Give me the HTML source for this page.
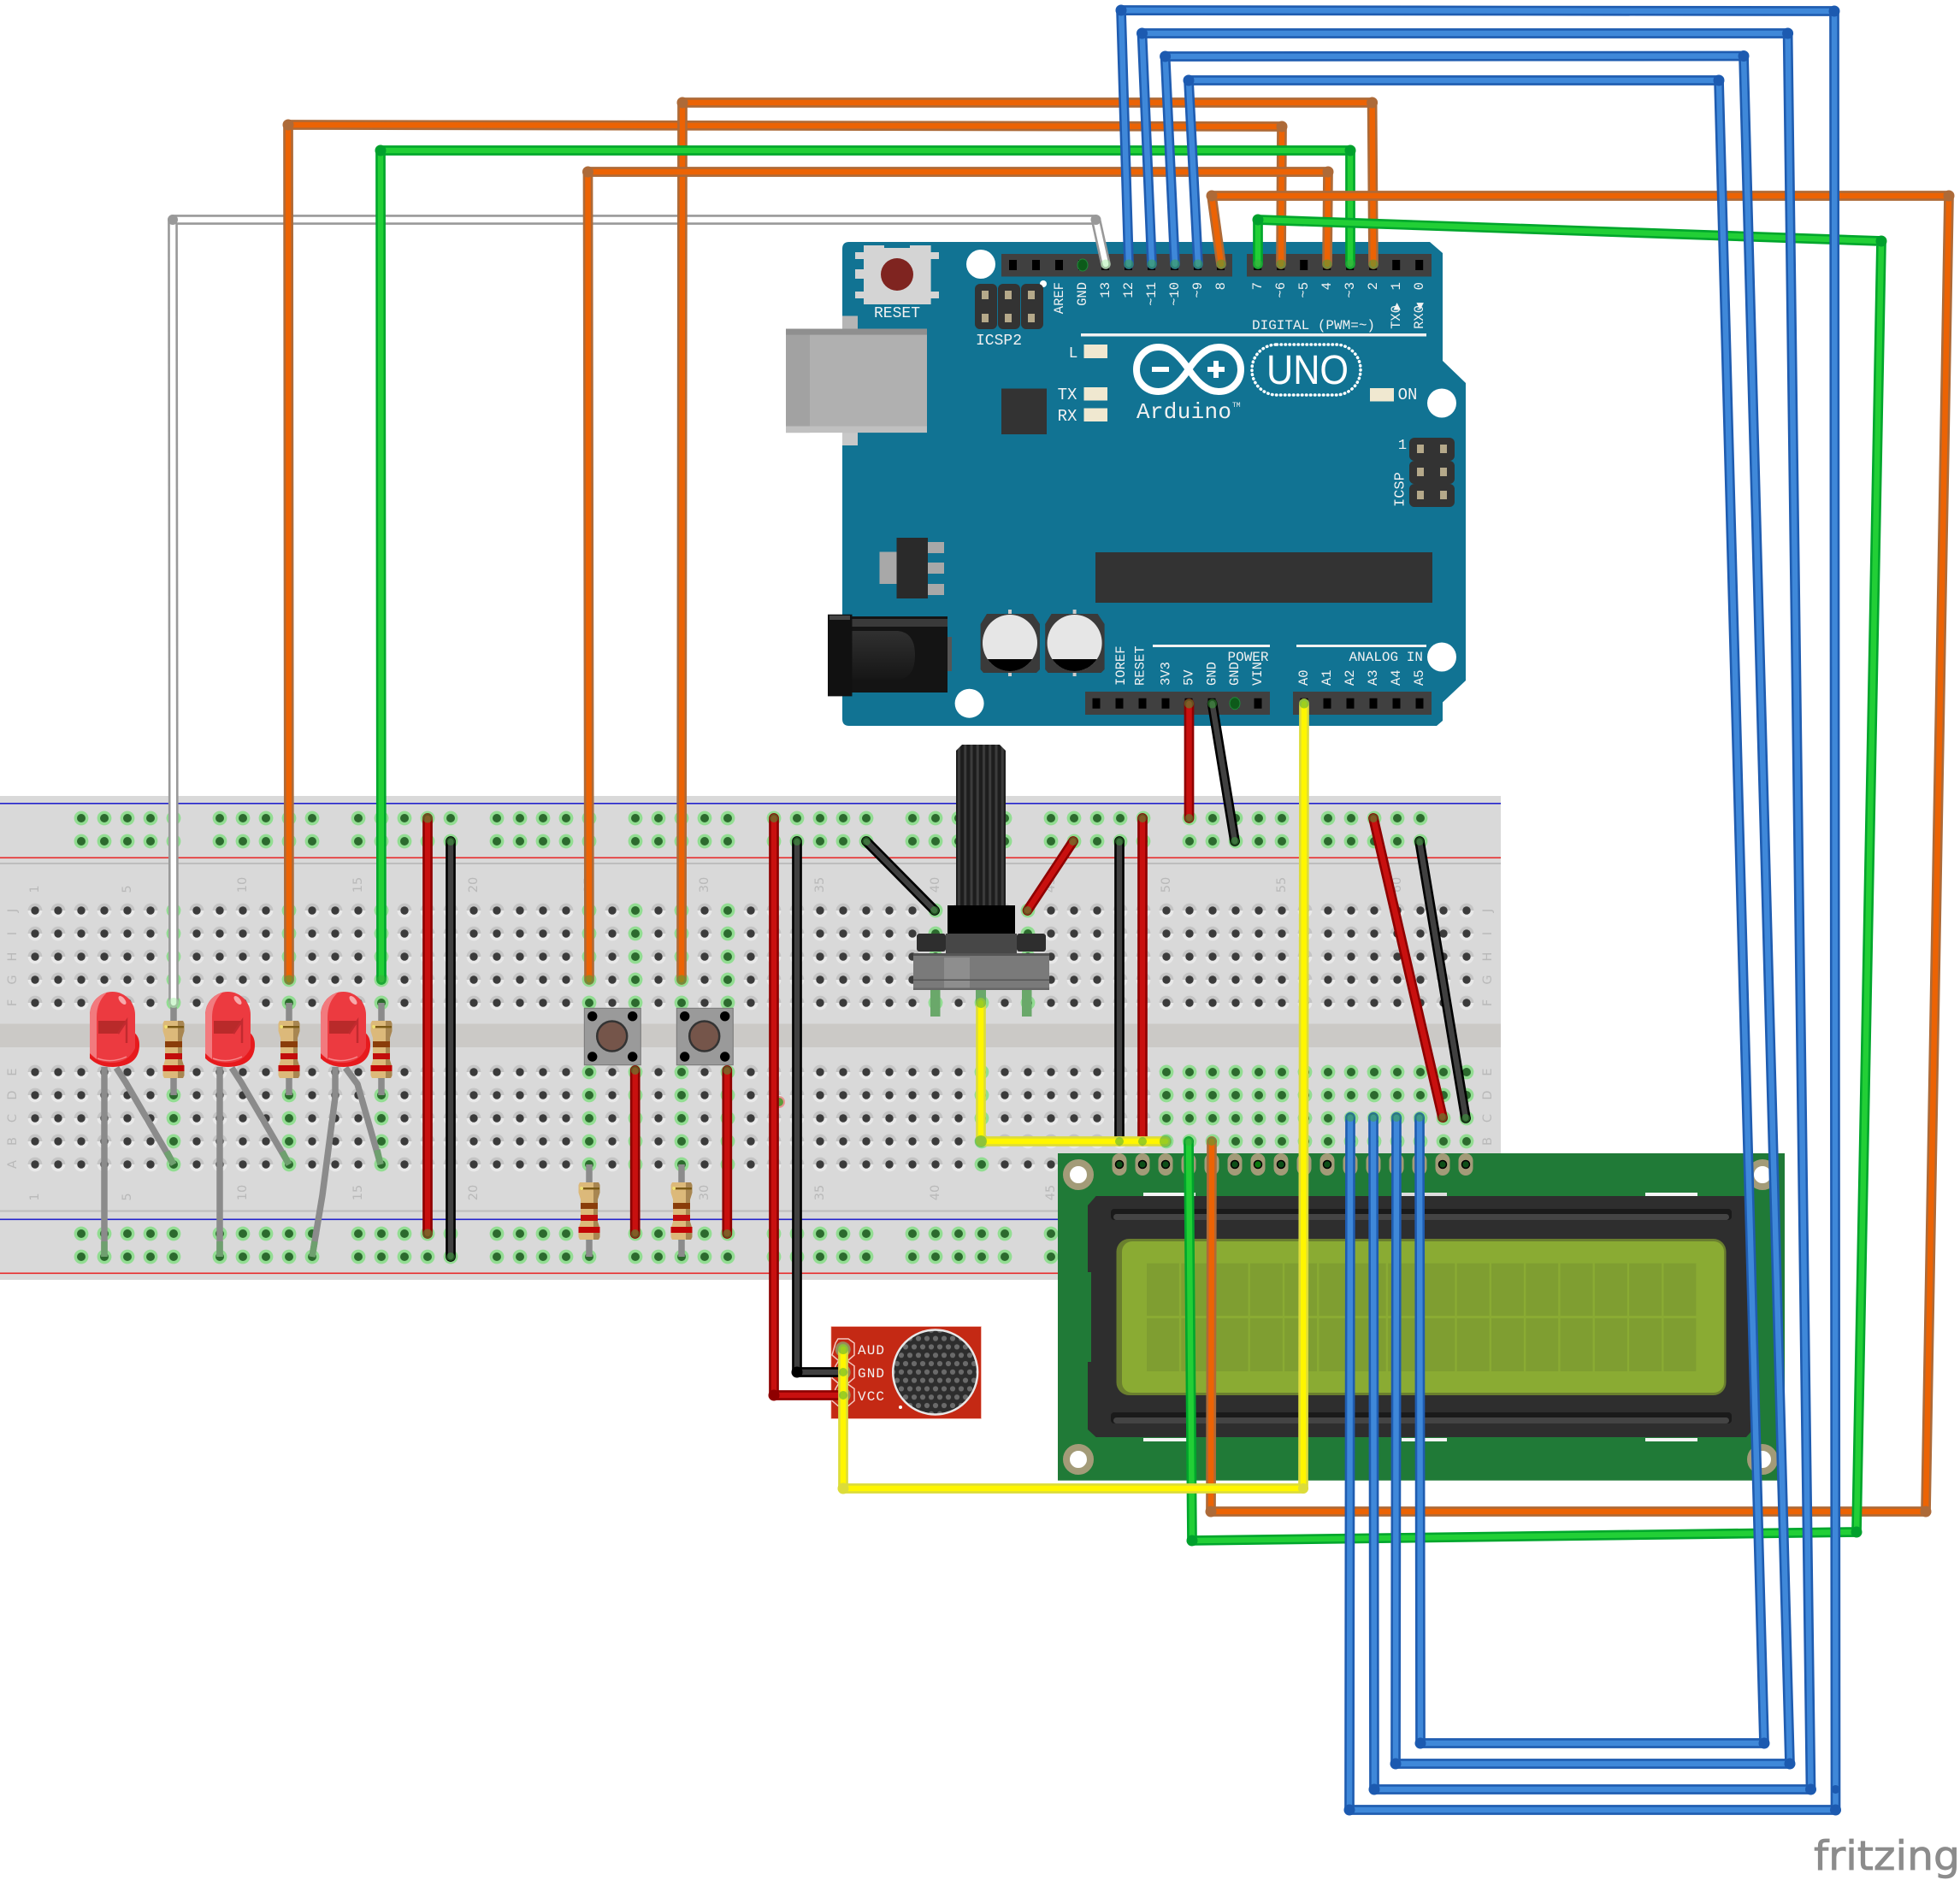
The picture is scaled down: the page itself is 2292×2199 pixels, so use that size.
<!DOCTYPE html>
<html><head><meta charset="utf-8"><title>Fritzing breadboard diagram</title>
<style>
html,body{margin:0;padding:0;background:#fff}
svg{display:block}
.wo,.wi{fill:none;stroke-linecap:round;stroke-linejoin:round}
.wo{stroke-width:11.7}.wi{stroke-width:6.5}
.blue .wo{stroke:#1f5cb0}.blue .wi{stroke:#3f88d9}.blue circle{fill:#1c5ab0}
.org .wo{stroke:#ad6a38}.org .wi{stroke:#ec6304}.org circle{fill:#ad6a38}
.grn .wo{stroke:#00a62c}.grn .wi{stroke:#22cf36}.grn circle{fill:#00a02c}
.yel .wo{stroke:#dcdc3a}.yel .wi{stroke:#fff600}.yel circle{fill:#dcdc3a}
.red .wo{stroke:#8e0000}.red .wi{stroke:#c8100f}.red circle{fill:#8e0000}
.blk .wo{stroke:#000}.blk .wi{stroke:#404040}.blk circle{fill:#000}
.wht .wo{stroke:#999}.wht .wi{stroke:#fff}.wht circle{fill:#999}
.bb{font-family:"DejaVu Sans",sans-serif;font-size:14.5px;fill:#b9b9b9;text-anchor:middle;dominant-baseline:central}
.m{font-family:"Liberation Mono",monospace;fill:#f2f2f2;font-size:16px}
.ve{text-anchor:end;dominant-baseline:central;font-size:15.5px}
.vs{text-anchor:start;dominant-baseline:central;font-size:15.5px}
.leg{fill:none;stroke:#8b8b8b;stroke-width:7.5;stroke-linejoin:round}
.legg{fill:none;stroke:#6fa06f;stroke-width:7.5}
.e{fill:#3ea83e;opacity:.5}
</style></head><body>
<svg xmlns="http://www.w3.org/2000/svg" width="2292" height="2199" viewBox="0 0 2292 2199">
<defs>
<pattern id="hg" patternUnits="userSpaceOnUse" x="27.5" y="1051.5" width="27" height="27">
<path d="M5.1,13.5a8.4,8.4 0 0 1 16.8,0z" fill="#c4c4c4"/><path d="M5.1,13.5a8.4,8.4 0 0 0 16.8,0z" fill="#e9e9e9"/><circle cx="13.5" cy="13.5" r="4.7" fill="#3b3b3b"/></pattern>
<pattern id="hv" patternUnits="userSpaceOnUse" x="27.5" y="1051.5" width="27" height="27">
<circle cx="13.5" cy="13.5" r="8.4" fill="#92dd92"/><circle cx="13.5" cy="13.5" r="5" fill="#2c6a2e"/></pattern>
<pattern id="micd" patternUnits="userSpaceOnUse" x="1089" y="1595" width="10" height="19.6">
<rect width="10" height="19.6" fill="#2d2d2d"/><circle cx="0" cy="0" r="3.1" fill="#6a6a6a"/><circle cx="10" cy="0" r="3.1" fill="#6a6a6a"/><circle cx="0" cy="19.6" r="3.1" fill="#6a6a6a"/><circle cx="10" cy="19.6" r="3.1" fill="#6a6a6a"/><circle cx="5" cy="9.8" r="3.1" fill="#6a6a6a"/></pattern>
<pattern id="sft" patternUnits="userSpaceOnUse" x="1118" y="0" width="7.25" height="10">
<rect width="7.25" height="10" fill="#1d1d1d"/><rect x="2" width="3" height="10" fill="#3c3c3c"/></pattern>
<linearGradient id="jk" x1="0" y1="0" x2="0" y2="1"><stop offset="0" stop-color="#303030"/><stop offset="1" stop-color="#161616"/></linearGradient>
<g id="res">
<path d="M-11,0H11L12.5,3V12L10,20V46L12.5,54V64L11,67H-11L-12.5,64V54L-10,46V20L-12.5,12V3Z" fill="#dcb97a"/>
<path d="M5,0H11L12.5,3V12L10,20V46L12.5,54V64L11,67H5Z" fill="#7d5c30" opacity=".55"/>
<rect x="-11" y="6" width="23" height="2.4" fill="#7b5a15"/><circle cx="-9" cy="7" r="2" fill="#f0e070"/>
<rect x="-10" y="24" width="20" height="7" fill="#8a3d0a"/><rect x="-10" y="38" width="20" height="7" fill="#c20c0c"/><rect x="-12.5" y="52" width="25" height="7" fill="#c20505"/>
</g>
<g id="led">
<path d="M105,1226V1238Q115,1248 132,1248Q163,1247 163,1222Q163,1212 156,1207V1226Z" fill="#e71a1d"/>
<path d="M105,1187A26.5,27 0 0 1 158,1187V1226Q150,1243 131,1243Q113,1243 105,1232Z" fill="#ec3a40"/>
<path d="M115,1194H148L138,1209H115Z" fill="#b92a2a"/><path d="M138,1209L148,1194V1220" fill="none" stroke="#c12a2f" stroke-width="2.5"/>
<path d="M105,1187A26.5,27 0 0 1 125,1161Q113,1172 113,1190V1239L105,1232Z" fill="#f27a7e"/>
<ellipse cx="143" cy="1170" rx="3" ry="6" transform="rotate(-40 143 1170)" fill="#f7a9ab"/>
<path d="M114,1238Q131,1244 148,1236" fill="none" stroke="#f58a8c" stroke-width="1.5"/>
</g>
<g id="cap">
<path d="M1154,718H1208L1216,730V783L1212,787H1150L1146.6,783V730Z" fill="#3a3a3a"/>
<rect x="1179" y="713" width="4" height="5" fill="#ccc"/><rect x="1179" y="787" width="4" height="4" fill="#ccc"/>
<ellipse cx="1181" cy="752" rx="32" ry="33" fill="#e6e6e6"/><path d="M1154.8,771A32,33 0 0 0 1207.2,771Z" fill="#000"/>
</g>
<path id="pad" d="M-8.5,8.5a8.5,8.5 0 0 1 17,0v9a8.5,8.5 0 0 1 -17,0z" fill="#a39b78"/>
<path id="w0" d="M203,1173L202,257L1281.5,257L1293,309"/>
<path id="wA" d="M1606,309L1604.6,120L798,120L797,1146"/>
<path id="wB" d="M1498,309L1499,148L337,146L338,1146"/>
<path id="wD" d="M1552,309L1553,201L687.5,201L689,1146"/>
<path id="wE" d="M1428,309L1417,229L2279,229L2252,1768L1416,1768L1417,1335"/>
<path id="wC" d="M1579,309L1579,176L445,176L446,1146"/>
<path id="wF" d="M1471,309L1471,257L2200,282L2171,1792L1394,1802L1390,1335"/>
<path id="y1" d="M1147,1173V1335H1363"/>
<path id="y2" d="M1525,823L1524,1741L986,1741V1578"/>
<path id="r1" d="M1390.5,823V957"/><path id="r2" d="M500,957V1443"/><path id="r3" d="M1336,957V1335"/>
<path id="r4" d="M1606,957L1687,1307"/><path id="r5" d="M1255,984L1201.5,1065"/>
<path id="r6" d="M742.7,1252V1443"/><path id="r7" d="M850.3,1252V1443"/><path id="r8" d="M905,957V1632H986"/>
<path id="k1" d="M1417.6,823L1444,984"/><path id="k2" d="M527,984V1470"/><path id="k3" d="M1309,984V1335"/>
<path id="k4" d="M1660,984L1714,1308"/><path id="k5" d="M1013,984L1093,1065"/><path id="k6" d="M932,984V1605H986"/>
<path id="b1" d="M1320,309L1311,12L2145,13L2146.5,2117L1578,2117L1579,1307"/>
<path id="b2" d="M1347,309L1335.5,39H2090.6L2117.5,2093H1607L1606,1307"/>
<path id="b3" d="M1374,309L1362.6,66L2039,65.5L2093,2063H1632L1633,1307"/>
<path id="b4" d="M1401,309L1390,94H2010L2063,2039H1661L1660,1307"/>
</defs>

<!-- breadboard -->
<rect x="0" y="931" width="1755" height="566" fill="#d9d9d9"/>
<rect x="0" y="1197.5" width="1755" height="27.5" fill="#cbc9c6"/>
<rect x="0" y="939" width="1755" height="1.6" fill="#2222cc"/>
<rect x="0" y="1002.5" width="1755" height="1.6" fill="#e82a2a"/>
<rect x="0" y="1009" width="1755" height="2" fill="#bdbdbd"/>
<rect x="0" y="1415.5" width="1755" height="2" fill="#bdbdbd"/>
<rect x="0" y="1425.5" width="1755" height="1.6" fill="#2222cc"/>
<rect x="0" y="1488.5" width="1755" height="1.6" fill="#e82a2a"/>
<rect x="27.5" y="1051.5" width="1701" height="135" fill="url(#hg)"/>
<rect x="27.5" y="1240.5" width="1701" height="135" fill="url(#hg)"/>
<g fill="url(#hv)">
<rect x="81.5" y="943.5" width="135" height="54"/><rect x="243.5" y="943.5" width="135" height="54"/><rect x="405.5" y="943.5" width="135" height="54"/><rect x="567.5" y="943.5" width="135" height="54"/><rect x="729.5" y="943.5" width="135" height="54"/><rect x="891.5" y="943.5" width="135" height="54"/><rect x="1053.5" y="943.5" width="135" height="54"/><rect x="1215.5" y="943.5" width="135" height="54"/><rect x="1377.5" y="943.5" width="135" height="54"/><rect x="1539.5" y="943.5" width="135" height="54"/>
<rect x="81.5" y="1429.5" width="135" height="54"/><rect x="243.5" y="1429.5" width="135" height="54"/><rect x="405.5" y="1429.5" width="135" height="54"/><rect x="567.5" y="1429.5" width="135" height="54"/><rect x="729.5" y="1429.5" width="135" height="54"/><rect x="891.5" y="1429.5" width="135" height="54"/><rect x="1053.5" y="1429.5" width="135" height="54"/><rect x="1215.5" y="1429.5" width="135" height="54"/>
<rect x="189.5" y="1051.5" width="27" height="135"/><rect x="324.5" y="1051.5" width="27" height="135"/><rect x="432.5" y="1051.5" width="27" height="135"/><rect x="675.5" y="1051.5" width="27" height="135"/><rect x="729.5" y="1051.5" width="27" height="135"/><rect x="783.5" y="1051.5" width="27" height="135"/><rect x="837.5" y="1051.5" width="27" height="135"/><rect x="1080.5" y="1051.5" width="27" height="135"/><rect x="1134.5" y="1051.5" width="27" height="135"/><rect x="1188.5" y="1051.5" width="27" height="135"/>
<rect x="189.5" y="1240.5" width="27" height="135"/><rect x="324.5" y="1240.5" width="27" height="135"/><rect x="432.5" y="1240.5" width="27" height="135"/><rect x="675.5" y="1240.5" width="27" height="135"/><rect x="729.5" y="1240.5" width="27" height="135"/><rect x="783.5" y="1240.5" width="27" height="135"/><rect x="837.5" y="1240.5" width="27" height="135"/><rect x="1134.5" y="1240.5" width="27" height="135"/>
<rect x="1350.5" y="1240.5" width="378" height="135"/>
</g>
<g class="bb">
<text transform="translate(41,1040) rotate(-90)">1</text><text transform="translate(149,1040) rotate(-90)">5</text><text transform="translate(284,1035) rotate(-90)">10</text><text transform="translate(419,1035) rotate(-90)">15</text><text transform="translate(554,1035) rotate(-90)">20</text><text transform="translate(689,1035) rotate(-90)">25</text><text transform="translate(824,1035) rotate(-90)">30</text><text transform="translate(959,1035) rotate(-90)">35</text><text transform="translate(1094,1035) rotate(-90)">40</text><text transform="translate(1229,1035) rotate(-90)">45</text><text transform="translate(1364,1035) rotate(-90)">50</text><text transform="translate(1499,1035) rotate(-90)">55</text><text transform="translate(1634,1035) rotate(-90)">60</text>
<text transform="translate(41,1400) rotate(-90)">1</text><text transform="translate(149,1400) rotate(-90)">5</text><text transform="translate(284,1395) rotate(-90)">10</text><text transform="translate(419,1395) rotate(-90)">15</text><text transform="translate(554,1395) rotate(-90)">20</text><text transform="translate(689,1395) rotate(-90)">25</text><text transform="translate(824,1395) rotate(-90)">30</text><text transform="translate(959,1395) rotate(-90)">35</text><text transform="translate(1094,1395) rotate(-90)">40</text><text transform="translate(1229,1395) rotate(-90)">45</text>
<text transform="translate(15,1065) rotate(-90)">J</text><text transform="translate(15,1092) rotate(-90)">I</text><text transform="translate(15,1119) rotate(-90)">H</text><text transform="translate(15,1146) rotate(-90)">G</text><text transform="translate(15,1173) rotate(-90)">F</text><text transform="translate(15,1254) rotate(-90)">E</text><text transform="translate(15,1281) rotate(-90)">D</text><text transform="translate(15,1308) rotate(-90)">C</text><text transform="translate(15,1335) rotate(-90)">B</text><text transform="translate(15,1362) rotate(-90)">A</text>
<text transform="translate(1740,1065) rotate(-90)">J</text><text transform="translate(1740,1092) rotate(-90)">I</text><text transform="translate(1740,1119) rotate(-90)">H</text><text transform="translate(1740,1146) rotate(-90)">G</text><text transform="translate(1740,1173) rotate(-90)">F</text><text transform="translate(1740,1254) rotate(-90)">E</text><text transform="translate(1740,1281) rotate(-90)">D</text><text transform="translate(1740,1308) rotate(-90)">C</text><text transform="translate(1740,1335) rotate(-90)">B</text>
</g>

<!-- LEDs legs & LEDs -->
<path class="leg" d="M122,1248V1470"/><path class="leg" d="M136,1249L147,1266L203,1362"/><path class="legg" d="M122,1452V1470"/><path class="legg" d="M195,1347L203,1362"/>
<path class="leg" d="M257,1248V1470"/><path class="leg" d="M271,1249L282,1266L338,1362"/><path class="legg" d="M257,1452V1470"/><path class="legg" d="M330,1347L338,1362"/>
<path class="leg" d="M392,1248V1283L377,1398L365,1470"/><path class="leg" d="M404,1249L418,1268L445,1362"/><path class="legg" d="M368,1452L365,1470"/><path class="legg" d="M441,1345L445,1362"/>
<use href="#led"/><use href="#led" x="135"/><use href="#led" x="270"/>
<!-- resistors -->
<path class="leg" d="M203,1173V1281M338,1173V1281M446,1173V1281M689,1362V1470M797,1362V1470"/>
<use href="#res" x="203" y="1194"/><use href="#res" x="338" y="1194"/><use href="#res" x="446" y="1194"/><use href="#res" x="689" y="1383"/><use href="#res" x="797" y="1383"/>
<!-- push buttons -->
<g id="btn"><rect x="683.3" y="1179.3" width="66" height="66.4" fill="#9a9a9a" stroke="#777" stroke-width="1"/><circle cx="692.7" cy="1188.7" r="5.7"/><circle cx="739.7" cy="1188.7" r="5.7"/><circle cx="692.7" cy="1236" r="5.7"/><circle cx="739.7" cy="1236" r="5.7"/><circle cx="715.7" cy="1212" r="17.5" fill="#75554a" stroke="#333" stroke-width="2.5"/></g>
<use href="#btn" x="108"/>
<circle cx="911" cy="1289" r="6" fill="#5c9a3a" stroke="#e89090" stroke-width="2"/>

<!-- potentiometer -->
<path d="M1118,878L1125,871H1169L1176,878V1060H1118Z" fill="url(#sft)"/>
<rect x="1108" y="1059" width="79" height="33" fill="#000"/>
<rect x="1106" y="1092" width="83" height="25" fill="#474747"/>
<rect x="1072" y="1092" width="34" height="21" rx="3" fill="#2e2e2e"/><rect x="1189" y="1092" width="34" height="21" rx="3" fill="#2e2e2e"/>
<rect x="1088" y="1158" width="11.5" height="31" fill="#6aa86a"/><rect x="1141" y="1158" width="12" height="15" fill="#6aa86a"/><rect x="1195" y="1158" width="11.5" height="31" fill="#6aa86a"/>
<rect x="1068" y="1115" width="159" height="43" fill="#7a7a7a"/><rect x="1104" y="1120" width="30" height="38" fill="#8e8e8e"/><rect x="1068" y="1115" width="159" height="3" fill="#555"/>
<rect x="1068" y="1145.5" width="159" height="1.5" fill="#555"/><rect x="1068" y="1155.5" width="159" height="2.5" fill="#666"/>

<!-- Arduino -->
<path d="M993,283H1672L1687,296V422L1714,448V796L1687,821.5V843L1680,849H993Q985,849 985,841V291Q985,283 993,283Z" fill="#117393"/>
<g fill="#d4d4d4"><rect x="1000" y="295" width="98" height="8"/><rect x="1000" y="341" width="98" height="8"/><rect x="1000" y="315" width="10" height="11"/><rect x="1010" y="287" width="78.6" height="69"/></g>
<rect x="1034" y="287" width="30" height="3" fill="#117393"/>
<circle cx="1049" cy="321" r="19" fill="#7f2420"/>
<text class="m" x="1049" y="371" text-anchor="middle" style="font-size:18px">RESET</text>
<g fill="#fff"><circle cx="1147" cy="309" r="17"/><circle cx="1686" cy="471.5" r="17"/><circle cx="1686" cy="768.5" r="17"/><circle cx="1133.6" cy="822.7" r="17"/><circle cx="1220" cy="332" r="4"/></g>
<g fill="#333"><rect x="1140" y="332" width="26" height="53" rx="6"/><rect x="1167" y="332" width="26" height="53" rx="6"/><rect x="1194" y="332" width="26" height="53" rx="6"/></g>
<g fill="#b5a98a"><rect x="1148" y="340" width="8" height="10"/><rect x="1175" y="340" width="8" height="10"/><rect x="1202" y="340" width="8" height="10"/><rect x="1148" y="367" width="8" height="10"/><rect x="1175" y="367" width="8" height="10"/><rect x="1202" y="367" width="8" height="10"/></g>
<text class="m" x="1141" y="403" style="font-size:18px">ICSP2</text>
<!-- headers -->
<g fill="#404040"><rect x="1171" y="297" width="270" height="26.5"/><rect x="1458" y="297" width="216" height="26.5"/><rect x="1269" y="809" width="216" height="27"/><rect x="1512" y="809" width="162" height="27"/></g>
<g fill="none" stroke="#000" stroke-width="12" stroke-dasharray="9 18"><path d="M1180 310H1441"/><path d="M1466.2 310H1674"/><path d="M1277.5 822.7H1485"/><path d="M1520.5 822.7H1674"/></g>
<g class="m">
<text class="ve" transform="translate(1239,330) rotate(-90)">AREF</text><text class="ve" transform="translate(1266,330) rotate(-90)">GND</text><text class="ve" transform="translate(1293,330) rotate(-90)">13</text><text class="ve" transform="translate(1320,330) rotate(-90)">12</text><text class="ve" transform="translate(1347,330) rotate(-90)">~11</text><text class="ve" transform="translate(1374,330) rotate(-90)">~10</text><text class="ve" transform="translate(1401,330) rotate(-90)">~9</text><text class="ve" transform="translate(1428,330) rotate(-90)">8</text>
<text class="ve" transform="translate(1471,330) rotate(-90)">7</text><text class="ve" transform="translate(1498,330) rotate(-90)">~6</text><text class="ve" transform="translate(1525,330) rotate(-90)">~5</text><text class="ve" transform="translate(1552,330) rotate(-90)">4</text><text class="ve" transform="translate(1579,330) rotate(-90)">~3</text><text class="ve" transform="translate(1606,330) rotate(-90)">2</text>
<text class="ve" transform="translate(1633,330) rotate(-90)">1</text><text class="ve" transform="translate(1633,354) rotate(-90)" style="font-size:11px;font-family:'DejaVu Sans',sans-serif">▶</text><text class="ve" transform="translate(1633,357) rotate(-90)">TX0</text>
<text class="ve" transform="translate(1660,330) rotate(-90)">0</text><text class="ve" transform="translate(1660,354) rotate(-90)" style="font-size:11px;font-family:'DejaVu Sans',sans-serif">◀</text><text class="ve" transform="translate(1660,357) rotate(-90)">RX0</text>
<text class="vs" transform="translate(1311,802) rotate(-90)">IOREF</text><text class="vs" transform="translate(1333.6,802) rotate(-90)">RESET</text><text class="vs" transform="translate(1363.4,802) rotate(-90)">3V3</text><text class="vs" transform="translate(1390.5,802) rotate(-90)">5V</text><text class="vs" transform="translate(1417.6,802) rotate(-90)">GND</text><text class="vs" transform="translate(1444,802) rotate(-90)">GND</text><text class="vs" transform="translate(1471,802) rotate(-90)">VIN</text>
<text class="vs" transform="translate(1525,802) rotate(-90)">A0</text><text class="vs" transform="translate(1552,802) rotate(-90)">A1</text><text class="vs" transform="translate(1579,802) rotate(-90)">A2</text><text class="vs" transform="translate(1606,802) rotate(-90)">A3</text><text class="vs" transform="translate(1633,802) rotate(-90)">A4</text><text class="vs" transform="translate(1660,802) rotate(-90)">A5</text>
<text x="1464" y="385">DIGITAL (PWM=~)</text><text x="1435.5" y="773">POWER</text><text x="1577.5" y="773">ANALOG IN</text>
<text x="1255" y="418" text-anchor="middle" style="font-size:18px">L</text><text x="1248" y="467" text-anchor="middle" style="font-size:19px">TX</text><text x="1248" y="492" text-anchor="middle" style="font-size:19px">RX</text><text x="1646" y="467" text-anchor="middle" style="font-size:19px">ON</text>
<text x="1640" y="525" text-anchor="middle" style="font-size:17px">1</text><text class="vs" transform="translate(1638,593) rotate(-90)" style="font-size:17px">ICSP</text>
<text x="1329" y="489" textLength="111" style="font-size:26px">Arduino</text><text x="1441" y="476" style="font-size:8px">TM</text>
</g>
<g fill="#f2f2f2"><rect x="1264" y="390" width="404" height="3.5"/><rect x="1348" y="754" width="137" height="3"/><rect x="1516" y="754" width="152" height="3"/></g>
<g fill="#f0e8d0"><rect x="1267.5" y="403" width="27.5" height="16"/><rect x="1267.5" y="453" width="27.5" height="15.5"/><rect x="1267.5" y="477.5" width="27.5" height="15.5"/><rect x="1602" y="454" width="28" height="15.5"/></g>
<!-- USB -->
<rect x="985" y="369.5" width="18" height="15" fill="#b5b5b5"/><rect x="985" y="506" width="18" height="15" fill="#c8c8c8"/>
<rect x="919" y="384.6" width="165" height="121.5" fill="#b0b0b0"/><rect x="919" y="384.6" width="28" height="121.5" fill="#a2a2a2"/><rect x="919" y="384.6" width="165" height="7" fill="#8f8f8f"/><rect x="919" y="498.5" width="165" height="7.5" fill="#c0c0c0"/>
<rect x="1171" y="454.5" width="53" height="53.5" fill="#333"/>
<!-- logo -->
<path d="M1390,432C1375,410 1365,406 1355,406C1340,406 1329,418 1329,432C1329,447 1340,458 1355,458C1367,458 1378,450 1390,432C1402,414 1413,406 1425,406C1440,406 1451,418 1451,432C1451,447 1440,458 1425,458C1413,458 1402,450 1390,432Z" fill="none" stroke="#fff" stroke-width="8"/>
<rect x="1347" y="429" width="20" height="6" fill="#fff"/><rect x="1412" y="429" width="20" height="6" fill="#fff"/><rect x="1419" y="422" width="6" height="20" fill="#fff"/>
<rect x="1464" y="403" width="127" height="59" rx="29" fill="none" stroke="#fff" stroke-width="3.5" stroke-dasharray="0.5 4.5" stroke-linecap="round"/>
<text x="1481" y="449" textLength="96" lengthAdjust="spacingAndGlyphs" style="font-family:'Liberation Sans',sans-serif;font-size:48px;fill:#fff">UNO</text>
<!-- ICSP -->
<rect x="1648" y="512" width="53" height="27" rx="6" fill="#333"/><rect x="1648" y="539" width="53" height="27" rx="6" fill="#333"/><rect x="1648" y="566" width="53" height="27" rx="6" fill="#333"/>
<g fill="#b5a98a"><rect x="1657" y="520" width="8" height="10"/><rect x="1684" y="520" width="8" height="10"/><rect x="1657" y="547" width="8" height="10"/><rect x="1684" y="547" width="8" height="10"/><rect x="1657" y="574" width="8" height="10"/><rect x="1684" y="574" width="8" height="10"/></g>
<!-- regulator -->
<g fill="#a8a8a8"><rect x="1085" y="634" width="19" height="13"/><rect x="1085" y="658" width="19" height="13"/><rect x="1085" y="683" width="19" height="13"/><rect x="1028.5" y="645.5" width="20" height="37.5"/></g>
<rect x="1048.5" y="629" width="36.5" height="71" fill="#2a2a2a"/>
<rect x="1281" y="646" width="394" height="59" fill="#333"/>
<!-- jack -->
<rect x="996" y="721" width="112" height="89" fill="#141414"/><rect x="996" y="724" width="112" height="9" fill="#3a3a3a"/><path d="M996,738H1050Q1070,740 1070,766Q1070,793 1050,795H996Z" fill="url(#jk)"/>
<rect x="1108" y="745" width="5" height="40" fill="#555"/><rect x="968" y="718.7" width="28.5" height="95.7" fill="#111"/><rect x="970" y="720" width="24" height="5" fill="#444"/>
<use href="#cap"/><use href="#cap" x="75.6"/>

<!-- Mic -->
<rect x="972" y="1551.7" width="175.3" height="107.6" fill="#c42914" stroke="#e88a7a" stroke-width=".6"/>
<g fill="none" stroke="#f4c8c0" stroke-width="1.5"><path id="oct" d="M977,1571L980,1566H992L999,1571V1585L992,1591H980L973,1585Z"/><use href="#oct" y="26.7"/><use href="#oct" y="53.4"/></g>
<circle cx="985.7" cy="1578.3" r="9" fill="#9a8a5a"/><circle cx="985.7" cy="1605" r="9" fill="#9a8a5a"/><circle cx="985.7" cy="1631.7" r="9" fill="#9a8a5a"/>
<circle cx="1093.7" cy="1605" r="49.5" fill="url(#micd)" stroke="#e8e8e8" stroke-width="2.5"/>
<circle cx="1053" cy="1646" r="2" fill="#fff"/>
<g class="m" style="font-size:16px"><text x="1003" y="1584" textLength="31">AUD</text><text x="1003" y="1611" textLength="31">GND</text><text x="1003" y="1638" textLength="31">VCC</text></g>

<!-- LCD -->
<rect x="1237" y="1349" width="850" height="382.7" fill="#207a37"/>
<g fill="#f4f4f4"><rect x="1337" y="1395" width="61" height="4"/><rect x="1639" y="1395" width="53" height="4" fill="#dcdcdc"/><rect x="1924" y="1395" width="61" height="4"/><rect x="1337" y="1682" width="61" height="4"/><rect x="1639" y="1682" width="53" height="4"/><rect x="1924" y="1682" width="61" height="4"/></g>
<path d="M1281.7,1399H2045L2050,1410V1672L2042,1681H1281.7L1272,1672V1593H1276V1488H1272V1410Z" fill="#2e2e2e"/>
<rect x="1299" y="1414" width="726" height="13" rx="4" fill="#1a1a1a"/><rect x="1302" y="1420" width="720" height="7" rx="3.5" fill="#444"/>
<rect x="1299" y="1652" width="726" height="13" rx="4" fill="#1a1a1a"/><rect x="1302" y="1658" width="720" height="7" rx="3.5" fill="#444"/>
<rect x="1305.5" y="1449" width="713" height="183" rx="15" fill="#6a7f2e"/><rect x="1312" y="1452" width="704" height="177" rx="12" fill="#8aab33"/>
<g fill="#7f9e31">
<rect x="1341" y="1477.7" width="37.9" height="61.3"/><rect x="1381.3" y="1477.7" width="37.9" height="61.3"/><rect x="1421.6" y="1477.7" width="37.9" height="61.3"/><rect x="1461.9" y="1477.7" width="37.9" height="61.3"/><rect x="1502.2" y="1477.7" width="37.9" height="61.3"/><rect x="1542.5" y="1477.7" width="37.9" height="61.3"/><rect x="1582.8" y="1477.7" width="37.9" height="61.3"/><rect x="1623.1" y="1477.7" width="37.9" height="61.3"/><rect x="1663.4" y="1477.7" width="37.9" height="61.3"/><rect x="1703.7" y="1477.7" width="37.9" height="61.3"/><rect x="1744" y="1477.7" width="37.9" height="61.3"/><rect x="1784.3" y="1477.7" width="37.9" height="61.3"/><rect x="1824.6" y="1477.7" width="37.9" height="61.3"/><rect x="1864.9" y="1477.7" width="37.9" height="61.3"/><rect x="1905.2" y="1477.7" width="37.9" height="61.3"/><rect x="1945.5" y="1477.7" width="37.9" height="61.3"/>
<rect x="1341" y="1542" width="37.9" height="62"/><rect x="1381.3" y="1542" width="37.9" height="62"/><rect x="1421.6" y="1542" width="37.9" height="62"/><rect x="1461.9" y="1542" width="37.9" height="62"/><rect x="1502.2" y="1542" width="37.9" height="62"/><rect x="1542.5" y="1542" width="37.9" height="62"/><rect x="1582.8" y="1542" width="37.9" height="62"/><rect x="1623.1" y="1542" width="37.9" height="62"/><rect x="1663.4" y="1542" width="37.9" height="62"/><rect x="1703.7" y="1542" width="37.9" height="62"/><rect x="1744" y="1542" width="37.9" height="62"/><rect x="1784.3" y="1542" width="37.9" height="62"/><rect x="1824.6" y="1542" width="37.9" height="62"/><rect x="1864.9" y="1542" width="37.9" height="62"/><rect x="1905.2" y="1542" width="37.9" height="62"/><rect x="1945.5" y="1542" width="37.9" height="62"/></g>
<g fill="#fff" stroke="#a39b78" stroke-width="8"><circle cx="1261" cy="1374" r="14"/><circle cx="2061" cy="1374" r="14"/><circle cx="1261" cy="1707" r="14"/><circle cx="2061" cy="1707" r="14"/></g>
<g><use href="#pad" x="1309" y="1349"/><use href="#pad" x="1336" y="1349"/><use href="#pad" x="1363" y="1349"/><use href="#pad" x="1390" y="1349"/><use href="#pad" x="1417" y="1349"/><use href="#pad" x="1444" y="1349"/><use href="#pad" x="1471" y="1349"/><use href="#pad" x="1498" y="1349"/><use href="#pad" x="1525" y="1349"/><use href="#pad" x="1552" y="1349"/><use href="#pad" x="1579" y="1349"/><use href="#pad" x="1606" y="1349"/><use href="#pad" x="1633" y="1349"/><use href="#pad" x="1660" y="1349"/><use href="#pad" x="1687" y="1349"/><use href="#pad" x="1714" y="1349"/></g>
<g fill="#0d4f18" stroke="#000" stroke-width="1.5"><circle cx="1309" cy="1362" r="4.5"/><circle cx="1336" cy="1362" r="4.5"/><circle cx="1363" cy="1362" r="4.5"/><circle cx="1444" cy="1362" r="4.5"/><circle cx="1471" cy="1362" r="4.5" fill="#0b7a10"/><circle cx="1498" cy="1362" r="4.5"/><circle cx="1552" cy="1362" r="4.5"/><circle cx="1687" cy="1362" r="4.5"/><circle cx="1714" cy="1362" r="4.5"/></g>

<!-- pin overlays on Arduino -->
<g fill="#2f9a2f"><ellipse cx="1266" cy="310" rx="6" ry="7" fill="#0d5a1a" stroke="#1f8a3a"/><ellipse cx="1444" cy="822.7" rx="6" ry="7" fill="#0d5a1a" stroke="#1f8a3a"/></g>

<!-- wires -->
<g class="wht"><use href="#w0" class="wo"/><use href="#w0" class="wi"/><circle cx="202" cy="257" r="6"/><circle cx="1281.5" cy="257" r="6"/></g>
<g class="org"><use href="#wB" class="wo"/><use href="#wB" class="wi"/><circle cx="1499" cy="148" r="6.5"/><circle cx="337" cy="146" r="6.5"/>
<use href="#wA" class="wo"/><use href="#wA" class="wi"/><circle cx="1604.6" cy="120" r="6.5"/><circle cx="798" cy="120" r="6.5"/>
<use href="#wD" class="wo"/><use href="#wD" class="wi"/><circle cx="1553" cy="201" r="6.5"/><circle cx="687.5" cy="201" r="6.5"/></g>
<g class="grn"><use href="#wC" class="wo"/><use href="#wC" class="wi"/><circle cx="1579" cy="176" r="6.5"/><circle cx="445" cy="176" r="6.5"/></g>
<g class="org"><use href="#wE" class="wo"/><use href="#wE" class="wi"/><circle cx="1417" cy="229" r="6.5"/><circle cx="2279" cy="229" r="6.5"/><circle cx="2252" cy="1768" r="6.5"/><circle cx="1416" cy="1768" r="6.5"/></g>
<g class="grn"><use href="#wF" class="wo"/><use href="#wF" class="wi"/><circle cx="1471" cy="257" r="6.5"/><circle cx="2200" cy="282" r="6.5"/><circle cx="2171" cy="1792" r="6.5"/><circle cx="1394" cy="1802" r="6.5"/></g>
<g class="red"><use href="#r1" class="wo"/><use href="#r1" class="wi"/><use href="#r2" class="wo"/><use href="#r2" class="wi"/><use href="#r3" class="wo"/><use href="#r3" class="wi"/><use href="#r4" class="wo"/><use href="#r4" class="wi"/><use href="#r5" class="wo"/><use href="#r5" class="wi"/><use href="#r6" class="wo"/><use href="#r6" class="wi"/><use href="#r7" class="wo"/><use href="#r7" class="wi"/><use href="#r8" class="wo"/><use href="#r8" class="wi"/><circle cx="905" cy="1632" r="6.5"/></g>
<g class="blk"><use href="#k1" class="wo"/><use href="#k1" class="wi"/><use href="#k2" class="wo"/><use href="#k2" class="wi"/><use href="#k3" class="wo"/><use href="#k3" class="wi"/><use href="#k4" class="wo"/><use href="#k4" class="wi"/><use href="#k5" class="wo"/><use href="#k5" class="wi"/><use href="#k6" class="wo"/><use href="#k6" class="wi"/><circle cx="932" cy="1605" r="6.5"/></g>
<g class="yel"><use href="#y1" class="wo"/><use href="#y1" class="wi"/><circle cx="1147" cy="1335" r="6"/><use href="#y2" class="wo"/><use href="#y2" class="wi"/><circle cx="1524" cy="1741" r="6"/><circle cx="986" cy="1741" r="6.5"/></g>
<g class="blue"><use href="#b1" class="wo"/><use href="#b1" class="wi"/><use href="#b2" class="wo"/><use href="#b2" class="wi"/><use href="#b3" class="wo"/><use href="#b3" class="wi"/><use href="#b4" class="wo"/><use href="#b4" class="wi"/>
<circle cx="1311" cy="12" r="6.5"/><circle cx="2145" cy="13" r="6.5"/><circle cx="2146.5" cy="2117" r="6.5"/><circle cx="1578" cy="2117" r="6.5"/><circle cx="2146.5" cy="2093" r="5"/>
<circle cx="1335.5" cy="39" r="6.5"/><circle cx="2090.6" cy="39" r="6.5"/><circle cx="2117.5" cy="2093" r="6.5"/><circle cx="1607" cy="2093" r="6.5"/>
<circle cx="1362.6" cy="66" r="6.5"/><circle cx="2039" cy="65.5" r="6.5"/><circle cx="2093" cy="2063" r="6.5"/><circle cx="1632" cy="2063" r="6.5"/>
<circle cx="1390" cy="94" r="6.5"/><circle cx="2010" cy="94" r="6.5"/><circle cx="2063" cy="2039" r="6.5"/><circle cx="1661" cy="2039" r="6.5"/></g>
<!-- connected ends -->
<g class="e"><circle cx="1293" cy="309" r="5.5" style="fill:#a8f0a8"/><circle cx="1320" cy="309" r="5.5"/><circle cx="1347" cy="309" r="5.5"/><circle cx="1374" cy="309" r="5.5"/><circle cx="1401" cy="309" r="5.5"/><circle cx="1428" cy="309" r="5.5"/><circle cx="1471" cy="309" r="5.5"/><circle cx="1498" cy="309" r="5.5"/><circle cx="1552" cy="309" r="5.5"/><circle cx="1579" cy="309" r="5.5"/><circle cx="1606" cy="309" r="5.5"/>
<circle cx="1390.5" cy="823" r="5.5"/><circle cx="1417.6" cy="823" r="5.5"/><circle cx="1525" cy="823" r="5.5"/>
<circle cx="338" cy="1146" r="5.5"/><circle cx="446" cy="1146" r="5.5"/><circle cx="689" cy="1146" r="5.5"/><circle cx="797" cy="1146" r="5.5"/><circle cx="203" cy="1173" r="6" style="fill:#a8f0a8"/>
<circle cx="500" cy="957" r="5.5"/><circle cx="500" cy="1443" r="5.5"/><circle cx="527" cy="984" r="5"/><circle cx="527" cy="1470" r="5"/>
<circle cx="1309" cy="984" r="5"/><circle cx="1336" cy="957" r="5"/><circle cx="1309" cy="1335" r="5"/><circle cx="1336" cy="1335" r="5"/>
<circle cx="1390.5" cy="957" r="5"/><circle cx="1444" cy="984" r="5"/><circle cx="1606" cy="957" r="5"/><circle cx="1660" cy="984" r="5"/><circle cx="1687" cy="1307" r="5"/><circle cx="1714" cy="1308" r="5"/>
<circle cx="1013" cy="984" r="5"/><circle cx="1093" cy="1065" r="5"/><circle cx="1255" cy="984" r="5"/><circle cx="1201.5" cy="1065" r="5"/>
<circle cx="742.7" cy="1252" r="5"/><circle cx="850.3" cy="1252" r="5"/><circle cx="742.7" cy="1443" r="5"/><circle cx="850.3" cy="1443" r="5"/>
<circle cx="905" cy="957" r="5"/><circle cx="932" cy="984" r="5"/><circle cx="1579" cy="1307" r="5"/><circle cx="1606" cy="1307" r="5"/><circle cx="1633" cy="1307" r="5"/><circle cx="1660" cy="1307" r="5"/>
<circle cx="1390" cy="1335" r="5"/><circle cx="1417" cy="1335" r="5"/><circle cx="986" cy="1605" r="5"/><circle cx="986" cy="1632" r="5"/><circle cx="986" cy="1578" r="6"/><circle cx="1147" cy="1173" r="6"/><circle cx="1147" cy="1335" r="7"/><circle cx="1363" cy="1335" r="7"/></g>

<text x="2121" y="2187" textLength="171" lengthAdjust="spacingAndGlyphs" style="font-family:'DejaVu Sans',sans-serif;font-size:47px;fill:#8c8c8c;stroke:#8c8c8c;stroke-width:.8">fritzing</text>
</svg>
</body></html>
